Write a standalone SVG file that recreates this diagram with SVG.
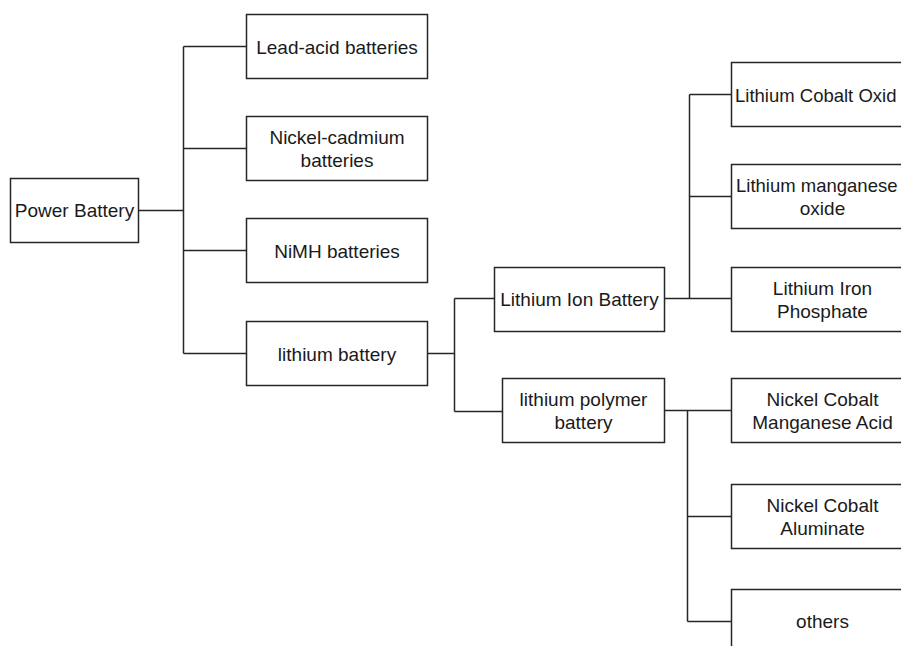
<svg xmlns="http://www.w3.org/2000/svg" width="901" height="646" viewBox="0 0 901 646">
<style>
.box{fill:#fff;stroke:#262626;stroke-width:1.5}
.ln{fill:none;stroke:#262626;stroke-width:1.5}
text{font-family:"Liberation Sans",Arial,sans-serif;font-size:19px;fill:#1a1a1a;text-anchor:middle}
text.edge{text-anchor:start;font-size:18.5px}
</style>
<rect width="901" height="646" fill="#fff"/>
<g id="connectors">
<path class="ln" d="M138.5 210.5H183.5M183.5 46.5V353.5M183.5 46.5H246.5M183.5 148.5H246.5M183.5 250.5H246.5M183.5 353.5H246.5"/>
<path class="ln" d="M427 353.5H454.5M454.5 298.5V411.5M454.5 298.5H494.5M454.5 411.5H502.5"/>
<path class="ln" d="M664 298.5H731.5M689.5 94.5V298.5M689.5 94.5H731.5M689.5 196.5H731.5"/>
<path class="ln" d="M664 410.5H731.5M687.5 410.5V621.5M687.5 516.5H731.5M687.5 621.5H731.5"/>
</g>
<g id="power"><rect class="box" x="10.5" y="178.5" width="128" height="64"/><text x="74.5" y="217">Power Battery</text></g>
<g id="lead"><rect class="box" x="246.5" y="14.5" width="181" height="64"/><text x="337" y="53.5">Lead-acid batteries</text></g>
<g id="nicd"><rect class="box" x="246.5" y="116.5" width="181" height="64"/><text x="337" y="143.5">Nickel-cadmium</text><text x="337" y="167">batteries</text></g>
<g id="nimh"><rect class="box" x="246.5" y="218.5" width="181" height="64"/><text x="337" y="257.5">NiMH batteries</text></g>
<g id="lithium"><rect class="box" x="246.5" y="321.5" width="181" height="64"/><text x="337" y="360.5">lithium battery</text></g>
<g id="liion"><rect class="box" x="494.5" y="267.5" width="170" height="64"/><text x="579.5" y="306">Lithium Ion Battery</text></g>
<g id="lipo"><rect class="box" x="502.5" y="378.5" width="162" height="64"/><text x="583.5" y="405.5">lithium polymer</text><text x="583.5" y="429">battery</text></g>
<g id="lco"><rect class="box" x="731.5" y="62.5" width="182" height="64"/><text class="edge" x="735" y="101.5">Lithium Cobalt Oxid</text></g>
<g id="lmo"><rect class="box" x="731.5" y="164.5" width="182" height="64"/><text class="edge" x="736" y="191.5">Lithium manganese</text><text x="822.5" y="215">oxide</text></g>
<g id="lfp"><rect class="box" x="731.5" y="267.5" width="182" height="64"/><text x="822.5" y="294.5">Lithium Iron</text><text x="822.5" y="318">Phosphate</text></g>
<g id="ncm"><rect class="box" x="731.5" y="378.5" width="182" height="64"/><text x="822.5" y="405.5">Nickel Cobalt</text><text x="822.5" y="429">Manganese Acid</text></g>
<g id="nca"><rect class="box" x="731.5" y="484.5" width="182" height="64"/><text x="822.5" y="511.5">Nickel Cobalt</text><text x="822.5" y="535">Aluminate</text></g>
<g id="others"><rect class="box" x="731.5" y="589.5" width="182" height="64"/><text x="822.5" y="628">others</text></g>
</svg>
